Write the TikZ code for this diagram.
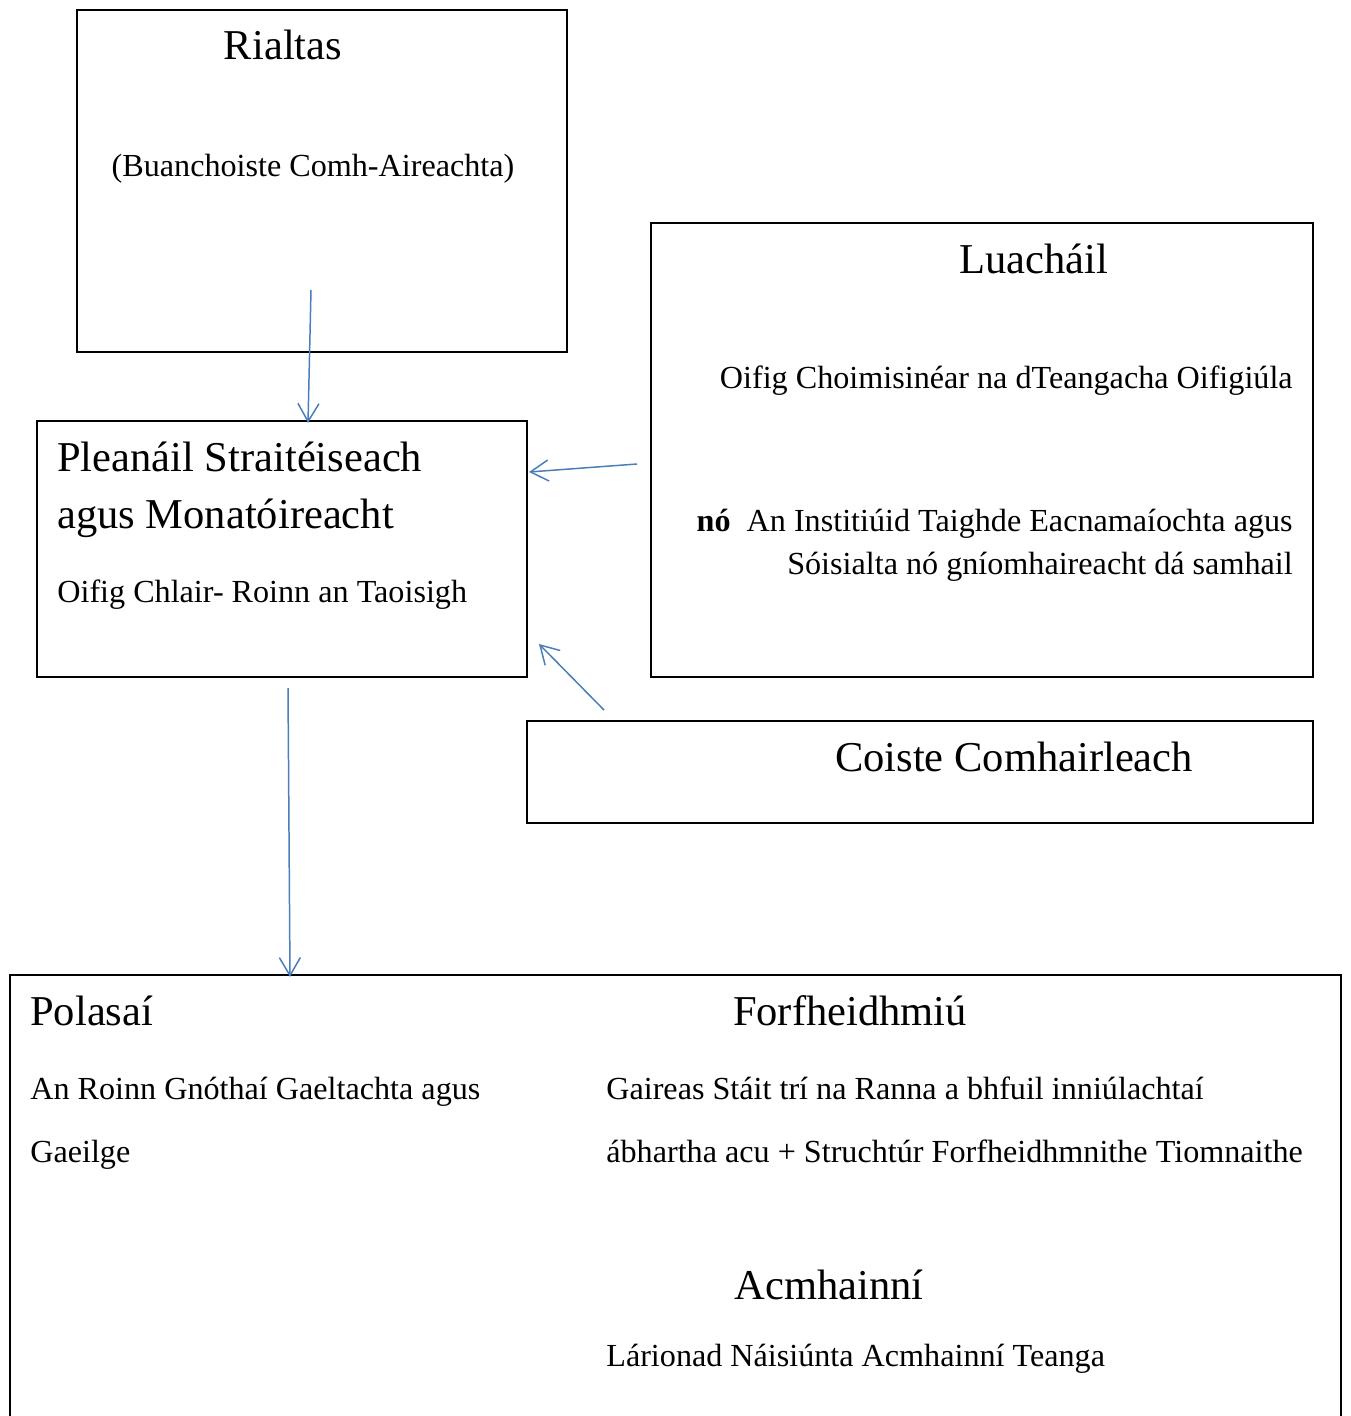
\documentclass[tikz,border=0pt]{standalone}
\usepackage{fontspec}
\setmainfont{Liberation Serif}
\usetikzlibrary{arrows.meta,calc}
\definecolor{arrowblue}{RGB}{74,126,187}
\begin{document}
\begin{tikzpicture}[x=0.02cm, y=-0.02cm,
  box/.style={draw, line width=1.1pt, inner sep=0pt},
  big/.style={inner sep=0pt, text height=17pt, text depth=0pt, font=\fontsize{24.2}{29}\selectfont},
  small/.style={inner sep=0pt, text height=13pt, text depth=0pt, font=\fontsize{18.3}{22}\selectfont},
  arr/.style={draw=arrowblue, line width=0.85pt, -{Straight Barb[length=0.36cm, width=0.42cm]}}]
\clip (0,0) rectangle (1350,1416);
% boxes
\node[box, minimum width=490*0.02cm, minimum height=342*0.02cm] (rialtas) at (322,181) {};
\node[box, minimum width=490*0.02cm, minimum height=256*0.02cm] (plean) at (282,549) {};
\node[box, minimum width=662*0.02cm, minimum height=454*0.02cm] (luach) at (982,450) {};
\node[box, minimum width=786*0.02cm, minimum height=102*0.02cm] (coiste) at (920,772) {};
\node[box, minimum width=1331*0.02cm, minimum height=500*0.02cm] (bun) at (675.5,1225) {};
% texts
\node[big] (t1) at (283,45) {Rialtas};
\node[small] (t2) at (313,165) {(Buanchoiste Comh-Aireachta)};
\node[big, anchor=west] (t3) at (57,457) {Pleanáil Straitéiseach};
\node[big, anchor=west] (t4) at (57,514) {agus Monatóireacht};
\node[small, anchor=west] (t5) at (57,591) {Oifig Chlair- Roinn an Taoisigh};
\node[big] (t6) at (1034,259) {Luacháil};
\node[small, anchor=east] (t7) at (1293,377) {Oifig Choimisinéar na dTeangacha Oifigiúla};
\node[small, anchor=east] (t8) at (1293,520) {\textbf{nó}\ \ An Institiúid Taighde Eacnamaíochta agus};
\node[small, anchor=east] (t9) at (1293,563) {Sóisialta nó gníomhaireacht dá samhail};
\node[big] (t10) at (1014,757) {Coiste Comhairleach};
\node[big, anchor=west] (t11) at (30,1011) {Polasaí};
\node[big] (t12) at (850,1011) {Forfheidhmiú};
\node[small, anchor=west] (t13) at (30,1088) {An Roinn Gnóthaí Gaeltachta agus};
\node[small, anchor=west] (t14) at (30,1151) {Gaeilge};
\node[small, anchor=west] (t15) at (606,1088) {Gaireas Stáit trí na Ranna a bhfuil inniúlachtaí};
\node[small, anchor=west] (t16) at (606,1151) {ábhartha acu + Struchtúr Forfheidhmnithe Tiomnaithe};
\node[big] (t17) at (829,1285) {Acmhainní};
\node[small, anchor=west] (t18) at (606,1355) {Lárionad Náisiúnta Acmhainní Teanga};
% arrows
\coordinate (a1) at (311,290);
\coordinate (a2) at (637,464);
\coordinate (a3) at (604,710);
\coordinate (a4) at (288,688);
\draw[arr] (a1) -- ($(plean.north)+(26,3)$);
\draw[arr] (a2) -- ($(plean.east)+(1,-77)$);
\draw[arr] (a3) -- ($(plean.south east)+(11,-34)$);
\draw[arr] (a4) -- ($(bun.north)+(-385.5,3)$);
\end{tikzpicture}
\end{document}
